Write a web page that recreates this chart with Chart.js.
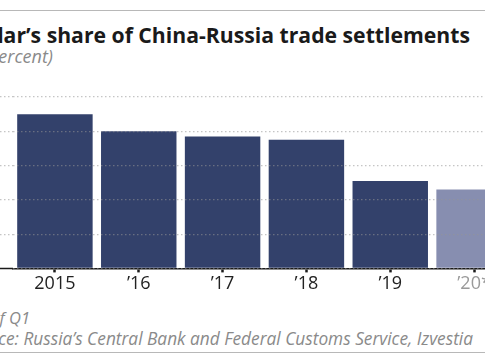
<!DOCTYPE html>
<html>
<head>
<meta charset="utf-8">
<script src="https://cdn.jsdelivr.net/npm/chart.js@4"></script>
<style>
  html, body { margin: 0; padding: 0; background: #fff; }
  #wrap { position: relative; width: 485px; height: 360px; overflow: hidden; background: #fff; font-family: "Open Sans", Lato, sans-serif; }
  .rule { position: absolute; left: 0; width: 485px; height: 1px; background: #b8b8b8; }
  .txt { position: absolute; white-space: nowrap; line-height: 1; }
  #title { right: 15px; top: 24px; font-size: 21.2px; font-weight: 700; color: #1a1a1a; letter-spacing: 0; }
  #sub { right: 432px; top: 47px; font-size: 18px; font-style: italic; color: #8a8a8a; }
  #note { right: 455px; top: 310px; font-size: 16.5px; font-style: italic; color: #8a8a8a; }
  #src { right: 12px; top: 330px; font-size: 17.3px; font-style: italic; color: #8a8a8a; }
  #cbox { position: absolute; left: -20px; top: 92px; width: 536px; height: 204px; }
</style>
</head>
<body>
<div id="wrap">
  <div class="rule" style="top:10px"></div>
  <div class="txt" id="title">Dollar’s share of China-Russia trade settlements</div>
  <div class="txt" id="sub">(in percent)</div>
  <div id="cbox"><canvas id="c" width="536" height="204"></canvas></div>
  <div class="txt" id="note">*As of Q1</div>
  <div class="txt" id="src">Source: Russia’s Central Bank and Federal Customs Service, Izvestia</div>
  <div class="rule" style="top:352px"></div>
</div>
<script>
const categories = ["2015", "’16", "’17", "’18", "’19", "’20*"];
const dollarShare = [90, 80, 77, 75, 51, 46];
const barColors = ["#33416b", "#33416b", "#33416b", "#33416b", "#33416b", "#878eb0"];
const labelColors = ["#222222", "#222222", "#222222", "#222222", "#222222", "#9a9a9a"];
const yTicks = [0, 20, 40, 60, 80, 100];

const gridColor = "rgba(150,150,150,0.55)";

new Chart(document.getElementById("c"), {
  type: "bar",
  data: {
    labels: categories,
    datasets: [{
      data: dollarShare,
      backgroundColor: barColors,
      borderWidth: 0,
      barPercentage: 0.9,
      categoryPercentage: 1.0
    }]
  },
  options: {
    responsive: false,
    animation: false,
    events: [],
    layout: { padding: { top: 5, right: 0, bottom: 0, left: 0 } },
    plugins: { legend: { display: false }, tooltip: { enabled: false } },
    scales: {
      x: {
        offset: true,
        grid: {
          display: true,
          offset: false,
          drawOnChartArea: false,
          drawTicks: true,
          tickLength: 4,
          tickWidth: 2.5,
          tickColor: "#1a1a1a",
          z: 1
        },
        border: { display: true, color: "#1a1a1a", width: 1.5, z: 1 },
        ticks: {
          padding: 1,
          color: (ctx) => labelColors[ctx.index],
          font: { family: "Open Sans", size: 18, lineHeight: 1.2 }
        }
      },
      y: {
        min: 0,
        max: 100,
        afterBuildTicks: (scale) => { scale.ticks = yTicks.map(v => ({ value: v })); },
        ticks: { display: false },
        border: { display: false, dash: [1.5, 2.5] },
        grid: {
          color: gridColor,
          lineWidth: 1.2,
          drawTicks: true,
          tickLength: 33,
          tickColor: (ctx) => ctx.tick && ctx.tick.value === 0 ? "#1a1a1a" : gridColor,
          tickWidth: (ctx) => ctx.tick && ctx.tick.value === 0 ? 1.5 : 1.2,
          tickBorderDash: (ctx) => ctx.tick && ctx.tick.value === 0 ? [] : [1.5, 2.5],
          z: 1
        }
      }
    }
  }
});
</script>
</body>
</html>
